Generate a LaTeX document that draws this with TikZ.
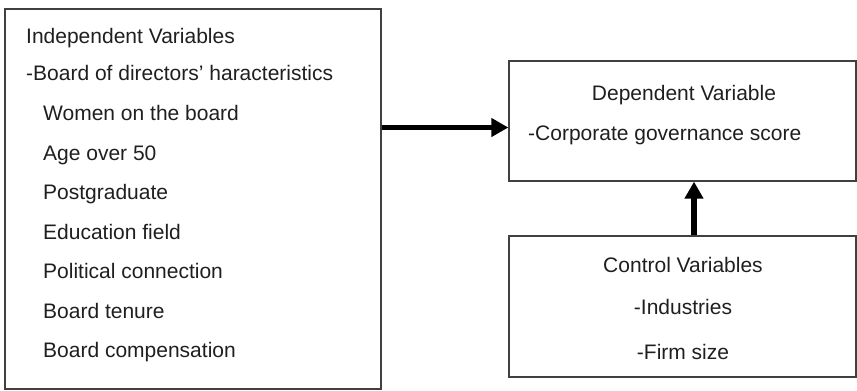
\documentclass[tikz,border=0pt]{standalone}
\usepackage{xcolor}
\usepackage{fontspec}
\setmainfont{Liberation Sans}
\usepackage{tikz}
\usetikzlibrary{arrows.meta,positioning}

\begin{document}
\begin{tikzpicture}[
			x = 1pt, y = -1pt,
			every node/.style = {inner sep = 0pt, text = black!88, font = \fontsize{21}{24}\selectfont},
			varbox/.style = {draw = black!75, line width = 1.3pt, rectangle},
			item/.style = {anchor = west, text height = 15pt, text depth = 0pt},
			title/.style = {anchor = center, text height = 15pt, text depth = 0pt},
			bigarrow/.style = {line width = 5.5pt, -{Triangle[length = 17pt, width = 18pt]}}
			]

			\useasboundingbox (0,0) rectangle (857,391);

			% boxes
			\node[varbox, minimum width = 376pt, minimum height = 380pt] (indep) at (193,199) {};
			\node[varbox, minimum width = 347pt, minimum height = 120pt] (dep) at (682.5,121) {};
			\node[varbox, minimum width = 347pt, minimum height = 141pt] (ctrl) at (682.5,306.5) {};

			% independent variables
			\node[item] (indtitle) at (26,36) {Independent Variables};
			\node[item] (board) at (26,73) {-Board of directors’ haracteristics};
			\node[item] (women) at (43,113) {Women on the board};
			\node[item] (age) at (43,153) {Age over 50};
			\node[item] (postgrad) at (43,192) {Postgraduate};
			\node[item] (edu) at (43,232) {Education field};
			\node[item] (pol) at (43,271) {Political connection};
			\node[item] (tenure) at (43,311) {Board tenure};
			\node[item] (comp) at (43,350) {Board compensation};

			% dependent variable
			\node[title] (deptitle) at (684,93) {Dependent Variable};
			\node[item] (score) at (528,133) {-Corporate governance score};

			% control variables
			\node[title] (ctrltitle) at (683,265) {Control Variables};
			\node[title] (ind) at (683,307) {-Industries};
			\node[title] (size) at (683,352) {-Firm size};

			% links
			\coordinate (link) at (0,127.5);
			\coordinate (up) at (694,0);
			\draw[bigarrow] (indep.east |- link) -- (dep.west |- link);
			\draw[bigarrow] (ctrl.north -| up) -- (dep.south -| up);

		\end{tikzpicture}
\end{document}
